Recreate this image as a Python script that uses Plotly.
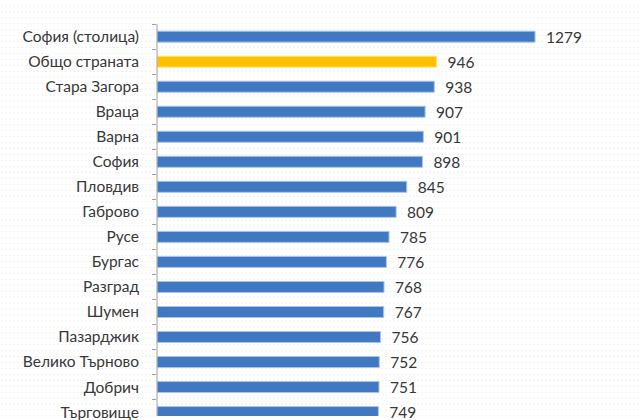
import plotly.graph_objects as go

categories = ["София (столица)", "Общо страната", "Стара Загора", "Враца", "Варна",
              "София", "Пловдив", "Габрово", "Русе", "Бургас", "Разград", "Шумен",
              "Пазарджик", "Велико Търново", "Добрич", "Търговище"]
values = [1279, 946, 938, 907, 901, 898, 845, 809, 785, 776, 768, 767, 756, 752, 751, 749]
highlight = "Общо страната"

blue = "#4178c2"
yellow = "#ffc000"
colors = [yellow if c == highlight else blue for c in categories]
lines = ["#ffe38a" if c == highlight else "#a9c4ea" for c in categories]

fig = go.Figure(go.Bar(
    y=categories, x=values, orientation="h",
    marker=dict(color=colors, line=dict(color=lines, width=1)),
    width=0.44,
    text=["\u00a0\u00a0" + str(v) for v in values],
    textposition="outside", cliponaxis=False, constraintext="none",
    textfont=dict(family="Lato", size=15.5, color="#383838"),
))

# faint dotted background pattern
for i in range(70):
    fig.add_shape(type="line", xref="paper", yref="paper", layer="below",
                  x0=-0.33, x1=1.0, y0=i / 70, y1=i / 70,
                  line=dict(color="#e2e2e2", width=1, dash="1px,3px"))

fig.add_shape(type="line", xref="paper", yref="y", x0=0, x1=0,
              y0=-0.5, y1=16, line=dict(color="#a0a0a0", width=1))

fig.update_layout(
    width=640, height=420,
    margin=dict(l=157, r=0, t=0, b=0),
    paper_bgcolor="white", plot_bgcolor="rgba(0,0,0,0)",
    showlegend=False,
    font=dict(family="Lato", size=15.5, color="#383838"),
    xaxis=dict(range=[0, 1634], visible=False),
    yaxis=dict(range=[15.156, -1.464], type="category",
               showline=False,
               ticks="outside", tickson="boundaries", ticklen=4, tickcolor="#a0a0a0",
               ticklabelstandoff=17, showgrid=False),
)

fig.write_html("out.html")
